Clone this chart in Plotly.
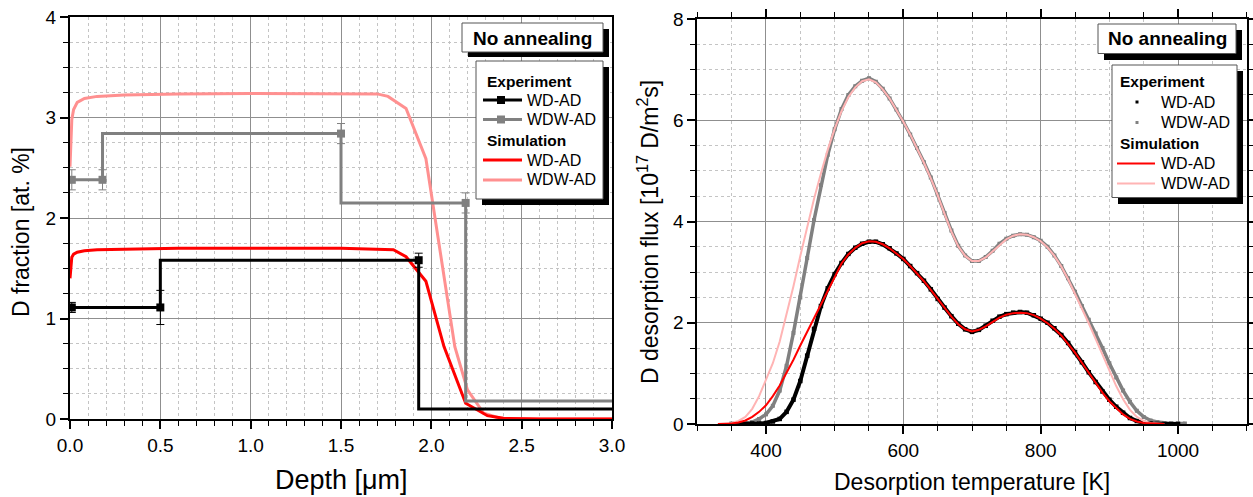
import plotly.graph_objects as go

W, H = 1253, 497
FONT = "Liberation Sans, Arial, sans-serif"

# ---------------- Left panel: depth profiles ----------------
exp_wd_depth = [0.01, 0.5, 1.93, 3.5]
exp_wd_frac = [1.11, 1.11, 1.58, 0.10]
exp_wd_err = [0.05, 0.17, 0.07, 0.0]

exp_wdw_depth = [0.01, 0.18, 1.5, 2.19, 3.5]
exp_wdw_frac = [2.38, 2.38, 2.84, 2.15, 0.18]
exp_wdw_err = [0.1, 0.1, 0.1, 0.1, 0.0]

sim_wd_depth = [0, 0.005, 0.01, 0.02, 0.04, 0.08, 0.15, 0.3, 0.6, 1.0, 1.5, 1.79, 1.86, 1.97, 2.07, 2.19, 2.31, 2.40, 2.6, 3.0]
sim_wd_frac = [1.40, 1.55, 1.61, 1.64, 1.66, 1.675, 1.685, 1.69, 1.70, 1.70, 1.70, 1.685, 1.615, 1.37, 0.72, 0.156, 0.033, 0.007, 0.0, 0.0]

sim_wdw_depth = [0, 0.005, 0.01, 0.02, 0.04, 0.08, 0.15, 0.3, 0.6, 1.0, 1.5, 1.70, 1.76, 1.86, 1.97, 2.09, 2.13, 2.20, 2.29, 2.38, 2.6, 3.0]
sim_wdw_frac = [2.51, 2.85, 2.98, 3.08, 3.15, 3.19, 3.21, 3.225, 3.235, 3.24, 3.24, 3.235, 3.21, 3.09, 2.59, 1.18, 0.72, 0.29, 0.057, 0.007, 0.0, 0.0]

# ---------------- Right panel: TDS ----------------
T_exp_wd = [350, 360, 370, 380, 390, 400, 410, 420, 430, 440, 450, 460, 470, 480, 490, 500, 510, 520, 530, 540,
            550, 560, 570, 580, 590, 600, 610, 620, 630, 640, 650, 660, 670, 680, 690, 700, 710, 720, 730, 740,
            750, 760, 770, 780, 790, 800, 810, 820, 830, 840, 850, 860, 870, 880, 890, 900, 910, 920, 930, 940,
            950, 960, 970, 980, 990, 1000]
flux_exp_wd = [0.0, 0.0, 0.0, 0.01, 0.01, 0.02, 0.05, 0.10, 0.24, 0.48, 0.85, 1.35, 1.88, 2.33, 2.68, 2.96, 3.18, 3.36, 3.48, 3.56,
               3.60, 3.60, 3.55, 3.47, 3.37, 3.26, 3.12, 2.98, 2.83, 2.66, 2.47, 2.30, 2.13, 1.98, 1.87, 1.82, 1.86, 1.94, 2.04, 2.12,
               2.17, 2.20, 2.21, 2.20, 2.15, 2.08, 2.00, 1.89, 1.76, 1.60, 1.42, 1.22, 1.02, 0.83, 0.64, 0.48, 0.34, 0.22, 0.12, 0.06,
               0.02, 0.01, 0.0, 0.0, 0.0, 0.0]

T_exp_wdw = [350, 360, 370, 380, 390, 400, 410, 420, 430, 440, 450, 460, 470, 480, 490, 500, 510, 520, 530, 540,
             550, 560, 570, 580, 590, 600, 610, 620, 630, 640, 650, 660, 670, 680, 690, 700, 710, 720, 730, 740,
             750, 760, 770, 780, 790, 800, 810, 820, 830, 840, 850, 860, 870, 880, 890, 900, 910, 920, 930, 940,
             950, 960, 970, 980, 990, 1000, 1010]
flux_exp_wdw = [0.0, 0.0, 0.01, 0.04, 0.10, 0.19, 0.36, 0.66, 1.15, 1.80, 2.50, 3.28, 4.03, 4.72, 5.32, 5.82, 6.22, 6.50, 6.67, 6.78,
                6.83, 6.76, 6.62, 6.43, 6.21, 5.97, 5.72, 5.45, 5.17, 4.87, 4.54, 4.17, 3.82, 3.52, 3.33, 3.22, 3.22, 3.30, 3.42, 3.56,
                3.66, 3.72, 3.75, 3.74, 3.69, 3.62, 3.50, 3.33, 3.12, 2.88, 2.61, 2.33, 2.06, 1.79, 1.50, 1.20, 0.92, 0.66, 0.44, 0.26,
                0.14, 0.07, 0.04, 0.02, 0.01, 0.01, 0.01]

T_sim = [330, 340, 350, 360, 370, 380, 390, 400, 410, 420, 430, 440, 450, 460, 470, 480, 490, 500, 510, 520,
         530, 540, 550, 560, 570, 580, 590, 600, 610, 620, 630, 640, 650, 660, 670, 680, 690, 700, 710, 720,
         730, 740, 750, 760, 770, 780, 790, 800, 810, 820, 830, 840, 850, 860, 870, 880, 890, 900, 910, 920,
         930, 940, 950, 960, 970, 980]
flux_sim_wd = [0.0, 0.0, 0.01, 0.03, 0.07, 0.14, 0.24, 0.37, 0.55, 0.76, 1.00, 1.27, 1.55, 1.82, 2.09, 2.36, 2.65, 2.93, 3.17, 3.35,
               3.48, 3.57, 3.61, 3.60, 3.55, 3.47, 3.37, 3.26, 3.12, 2.98, 2.82, 2.65, 2.47, 2.29, 2.12, 1.97, 1.87, 1.83, 1.86, 1.93,
               2.02, 2.10, 2.16, 2.19, 2.20, 2.19, 2.15, 2.08, 1.99, 1.88, 1.75, 1.59, 1.41, 1.21, 1.01, 0.81, 0.62, 0.45, 0.31, 0.19,
               0.10, 0.05, 0.02, 0.01, 0.0, 0.0]
flux_sim_wdw = [0.0, 0.0, 0.02, 0.06, 0.14, 0.30, 0.55, 0.87, 1.2, 1.63, 2.15, 2.72, 3.32, 3.90, 4.45, 4.95, 5.42, 5.83, 6.18, 6.46,
                6.65, 6.77, 6.81, 6.75, 6.61, 6.43, 6.21, 5.97, 5.72, 5.45, 5.16, 4.85, 4.52, 4.15, 3.80, 3.51, 3.32, 3.22, 3.22, 3.29,
                3.41, 3.54, 3.65, 3.72, 3.75, 3.74, 3.69, 3.61, 3.49, 3.32, 3.11, 2.86, 2.58, 2.29, 1.99, 1.68, 1.36, 1.04, 0.75, 0.49,
                0.28, 0.14, 0.06, 0.02, 0.01, 0.0]

BLACK = "#000000"
GRAY = "#808080"
RED = "#ff0000"
PINK_L = "#ff9090"
PINK_R = "#ffb4b4"

fig = go.Figure()

# left panel
fig.add_trace(go.Scatter(x=sim_wdw_depth, y=sim_wdw_frac, mode="lines",
                         line=dict(color=PINK_L, width=3), xaxis="x", yaxis="y", showlegend=False))
fig.add_trace(go.Scatter(x=sim_wd_depth, y=sim_wd_frac, mode="lines",
                         line=dict(color=RED, width=3), xaxis="x", yaxis="y", showlegend=False))
fig.add_trace(go.Scatter(x=exp_wdw_depth, y=exp_wdw_frac, mode="lines+markers", line_shape="vh",
                         line=dict(color=GRAY, width=3), marker=dict(symbol="square", size=8, color=GRAY),
                         error_y=dict(type="data", array=exp_wdw_err, color=GRAY, thickness=1, width=4),
                         xaxis="x", yaxis="y", showlegend=False))
fig.add_trace(go.Scatter(x=exp_wd_depth, y=exp_wd_frac, mode="lines+markers", line_shape="vh",
                         line=dict(color=BLACK, width=3), marker=dict(symbol="square", size=8, color=BLACK),
                         error_y=dict(type="data", array=exp_wd_err, color=BLACK, thickness=1, width=4),
                         xaxis="x", yaxis="y", showlegend=False))

# right panel
fig.add_trace(go.Scatter(x=T_exp_wdw, y=flux_exp_wdw, mode="lines+markers",
                         line=dict(color=GRAY, width=3.5), marker=dict(symbol="square", size=4, color=GRAY),
                         xaxis="x2", yaxis="y2", showlegend=False))
fig.add_trace(go.Scatter(x=T_exp_wd, y=flux_exp_wd, mode="lines+markers",
                         line=dict(color=BLACK, width=4), marker=dict(symbol="square", size=4.5, color=BLACK),
                         xaxis="x2", yaxis="y2", showlegend=False))
fig.add_trace(go.Scatter(x=T_sim, y=flux_sim_wdw, mode="lines", line=dict(color=PINK_R, width=2),
                         xaxis="x2", yaxis="y2", showlegend=False))
fig.add_trace(go.Scatter(x=T_sim, y=flux_sim_wd, mode="lines", line=dict(color=RED, width=2),
                         xaxis="x2", yaxis="y2", showlegend=False))


def fx(px):
    return px / W


def fy(py):
    return 1 - py / H


def axis_common(mirror):
    return dict(
        ticks="outside", ticklen=8, tickwidth=1.5, tickcolor="black",
        showline=True, linewidth=2, linecolor="black", mirror=mirror,
        showgrid=True, gridcolor="#8f8f8f", gridwidth=1,
        zeroline=False, automargin=False,
        tickfont=dict(family=FONT, size=19, color="black"),
    )


xa = axis_common(True)
xa.update(domain=[fx(70), fx(612)], range=[0, 3], tick0=0, dtick=0.5, tickformat=".1f", anchor="y",
          minor=dict(dtick=0.1, ticks="outside", ticklen=5, tickcolor="black", tickwidth=1,
                     showgrid=True, gridcolor="#c4c4c4", griddash="dot", gridwidth=1))
ya = axis_common(True)
ya.update(domain=[fy(419), fy(17)], range=[0, 4], tick0=0, dtick=1, anchor="x",
          minor=dict(dtick=0.25, ticks="outside", ticklen=5, tickcolor="black", tickwidth=1,
                     showgrid=True, gridcolor="#c4c4c4", griddash="dot", gridwidth=1))
xa2 = axis_common("ticks")
xa2.update(domain=[fx(697.3), fx(1246.7)], range=[300, 1100], tick0=0, dtick=200, anchor="y2",
           minor=dict(dtick=50, ticks="outside", ticklen=5, tickcolor="black", tickwidth=1,
                      showgrid=True, gridcolor="#c4c4c4", griddash="dot", gridwidth=1))
ya2 = axis_common("ticks")
ya2.update(domain=[fy(424), fy(19)], range=[0, 8], tick0=0, dtick=2, anchor="x2",
           minor=dict(dtick=0.5, ticks="outside", ticklen=5, tickcolor="black", tickwidth=1,
                      showgrid=True, gridcolor="#c4c4c4", griddash="dot", gridwidth=1))

shapes = []
annotations = []


def rect(x0, y0, x1, y1, fill, line_color=None, lw=0):
    shapes.append(dict(type="rect", xref="paper", yref="paper", x0=fx(x0), x1=fx(x1), y0=fy(y1), y1=fy(y0),
                       fillcolor=fill, line=dict(color=line_color or fill, width=lw), layer="above"))


def hline(x0, x1, y, color, w):
    shapes.append(dict(type="line", xref="paper", yref="paper", x0=fx(x0), x1=fx(x1), y0=fy(y), y1=fy(y),
                       line=dict(color=color, width=w), layer="above"))


def text(px, py, s, size, bold=False, anchor="left", angle=0):
    annotations.append(dict(xref="paper", yref="paper", x=fx(px), y=fy(py), text=f"<b>{s}</b>" if bold else s,
                            showarrow=False, xanchor=anchor, yanchor="middle", textangle=angle,
                            font=dict(family=FONT, size=size, color="black")))


# Left "No annealing" box + legend
rect(468, 29, 609, 57, "black")
rect(462, 23, 603, 52, "white", "#555555", 1)
text(532.5, 38, "No annealing", 19, bold=True, anchor="center")
rect(482, 67, 609, 205, "black")
rect(476, 61, 603, 199, "white", "#555555", 1)
text(485, 81, "Experiment", 15.5, bold=True)
hline(483, 522, 100, BLACK, 3)
rect(497, 96, 505, 104, BLACK)
text(525, 100, "WD-AD", 16)
hline(483, 522, 119.5, GRAY, 3)
rect(497, 115.5, 505, 123.5, GRAY)
text(525, 119.5, "WDW-AD", 16)
text(485, 141, "Simulation", 15.5, bold=True)
hline(483, 522, 160, RED, 3)
text(525, 160, "WD-AD", 16)
hline(483, 522, 180, PINK_L, 3)
text(525, 180, "WDW-AD", 16)

# Right "No annealing" box + legend
rect(1104, 30, 1242, 60, "black")
rect(1098, 24, 1236, 53.5, "white", "#555555", 1)
text(1167, 39, "No annealing", 19, bold=True, anchor="center")
rect(1118, 71, 1243, 204, "black")
rect(1112, 65, 1237, 197.5, "white", "#555555", 1)
text(1117.5, 81.5, "Experiment", 15.5, bold=True)
rect(1135.5, 100.5, 1138.5, 103.5, BLACK)
text(1159, 102, "WD-AD", 16)
rect(1135.5, 121, 1138.5, 124, GRAY)
text(1159, 122.5, "WDW-AD", 16)
text(1117.5, 143.5, "Simulation", 15.5, bold=True)
hline(1117, 1155, 163.5, RED, 2)
text(1159, 163.5, "WD-AD", 16)
hline(1117, 1155, 183.5, PINK_R, 2)
text(1159, 183.5, "WDW-AD", 16)

# Axis titles
text(341.5, 480, "Depth [μm]", 27, anchor="center")
text(21, 232, "D fraction [at. %]", 23, anchor="center", angle=-90)
text(972, 482, "Desorption temperature [K]", 23, anchor="center")
text(648, 232, "D desorption flux [10<sup>17</sup> D/m<sup>2</sup>s]", 23, anchor="center", angle=-90)

fig.update_layout(
    width=W, height=H, margin=dict(l=0, r=0, t=0, b=0),
    paper_bgcolor="white", plot_bgcolor="white",
    xaxis=xa, yaxis=ya, xaxis2=xa2, yaxis2=ya2,
    shapes=shapes, annotations=annotations, showlegend=False,
    font=dict(family=FONT, color="black"),
)

fig.write_html("out.html")
